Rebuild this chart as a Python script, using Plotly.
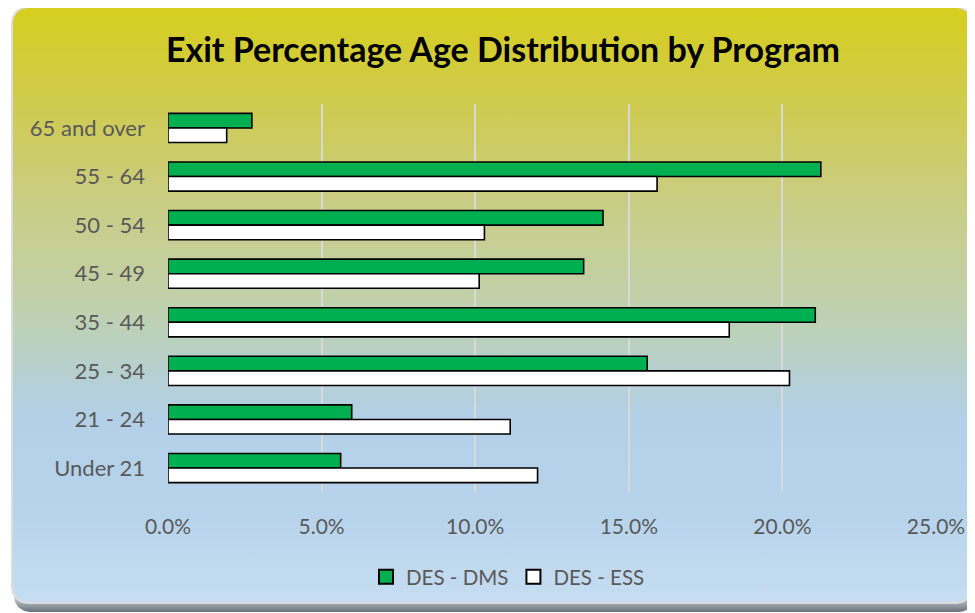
import numpy as np
import plotly.graph_objects as go

# ---- data ----
categories = ["65 and over", "55 - 64", "50 - 54", "45 - 49", "35 - 44", "25 - 34", "21 - 24", "Under 21"]
des_dms = [0.0273, 0.2125, 0.1416, 0.1353, 0.2107, 0.1560, 0.0598, 0.0562]
des_ess = [0.0191, 0.1592, 0.1030, 0.1013, 0.1827, 0.2023, 0.1114, 0.1203]
x_ticks = [0.0, 0.05, 0.10, 0.15, 0.20, 0.25]
series_names = ["DES - DMS", "DES - ESS"]
series_colors = ["#00B050", "white"]
title_text = "Exit Percentage Age Distribution by Program"

OFF = 8                      # page body margin
W, H = 975 - OFF, 613 - OFF  # figure size so the page fits the window
FONT = "Lato"
GREY = "#595959"


def px(x):   # screen x -> paper fraction
    return (x - OFF) / W


def py(y):   # screen y -> paper fraction (from bottom)
    return 1 - (y - OFF) / H


def rounded_rect(x0, y0, x1, y1, r, n=12):
    xs, ys = [], []
    corners = [
        (x1 - r, y0 + r, -np.pi / 2, 0),
        (x1 - r, y1 - r, 0, np.pi / 2),
        (x0 + r, y1 - r, np.pi / 2, np.pi),
        (x0 + r, y0 + r, np.pi, 1.5 * np.pi),
    ]
    for cx, cy, a0, a1 in corners:
        t = np.linspace(a0, a1, n)
        xs.extend(cx + r * np.cos(t))
        ys.extend(cy + r * np.sin(t))
    xs.append(xs[0])
    ys.append(ys[0])
    return xs, ys


fig = go.Figure()

# background card (decoration) on full-page axes in screen coordinates
sx, sy = rounded_rect(14, 14, 975, 612, 16)
fig.add_trace(go.Scatter(
    x=sx, y=sy, mode="lines", fill="toself", line=dict(width=0),
    fillgradient=dict(type="vertical", start=588, stop=612,
                      colorscale=[[0, "rgba(110,120,132,0.0)"], [1, "rgba(96,106,118,0.95)"]]),
    hoverinfo="skip", showlegend=False, xaxis="x", yaxis="y"))
cx, cy = rounded_rect(12, 7, 972, 603, 16)
fig.add_trace(go.Scatter(
    x=cx, y=cy, mode="lines", fill="toself", line=dict(width=2, color="#DCDCDC"),
    fillgradient=dict(type="vertical", start=7, stop=603,
                      colorscale=[[0, "#D6CE1E"], [0.16, "#CFCB4E"], [0.33, "#C9CD85"],
                                  [0.48, "#C2D0A8"], [0.55, "#BBD1BB"], [0.61, "#B6D0CF"],
                                  [0.69, "#B3D0E8"], [0.86, "#B8D4EC"], [1.0, "#C6DDF1"]]),
    hoverinfo="skip", showlegend=False, xaxis="x", yaxis="y"))

# bars
for name, vals, col in zip(series_names, [des_dms, des_ess], series_colors):
    fig.add_trace(go.Bar(
        name=name, y=categories, x=vals, orientation="h",
        marker=dict(color=col, line=dict(color="black", width=1.6)),
        showlegend=False, legendgroup=name, xaxis="x2", yaxis="y2"))

# legend entries (larger square swatches like the original)
for name, col in zip(series_names, series_colors):
    fig.add_trace(go.Scatter(
        name=name, x=[None], y=[None], mode="markers", legendgroup=name,
        marker=dict(symbol="square", size=14, color=col, line=dict(color="black", width=2)),
        xaxis="x2", yaxis="y2"))

fig.update_layout(
    template="none",
    width=W, height=H,
    margin=dict(l=0, r=0, t=0, b=0, pad=0),
    paper_bgcolor="white", plot_bgcolor="rgba(0,0,0,0)",
    font=dict(family=FONT, color=GREY, size=20),
    title=dict(text=title_text, x=px(503), xanchor="center", xref="paper",
               y=py(50), yanchor="middle", yref="paper",
               font=dict(family=FONT, size=34, color="black", weight="bold")),
    barmode="group", bargap=0.4, bargroupgap=0,
    xaxis=dict(domain=[0, 1], range=[OFF, OFF + W], visible=False, fixedrange=True, automargin=False),
    yaxis=dict(domain=[0, 1], range=[OFF + H, OFF], visible=False, fixedrange=True, automargin=False),
    xaxis2=dict(domain=[px(168), px(936)], range=[0, 0.25], anchor="y2",
                tickvals=x_ticks, tickformat=".1%", showgrid=True,
                gridcolor="#D9D9D9", gridwidth=1.5, zeroline=False,
                showline=False, ticks="", ticklabelstandoff=20, automargin=False,
                tickfont=dict(family=FONT, size=21, color=GREY)),
    yaxis2=dict(domain=[py(492.3), py(103.7)], anchor="x2",
                autorange="reversed", type="category", showgrid=False,
                showline=False, ticks="", ticklabelstandoff=22, automargin=False,
                tickfont=dict(family=FONT, size=22, color=GREY)),
    legend=dict(orientation="h", x=px(508), xanchor="center", xref="paper",
                y=py(577), yanchor="middle", yref="paper",
                bgcolor="rgba(0,0,0,0)", font=dict(family=FONT, size=20.5, color=GREY),
                itemsizing="trace", itemwidth=30, traceorder="normal"),
    showlegend=True,
)

fig.write_html("out.html")
